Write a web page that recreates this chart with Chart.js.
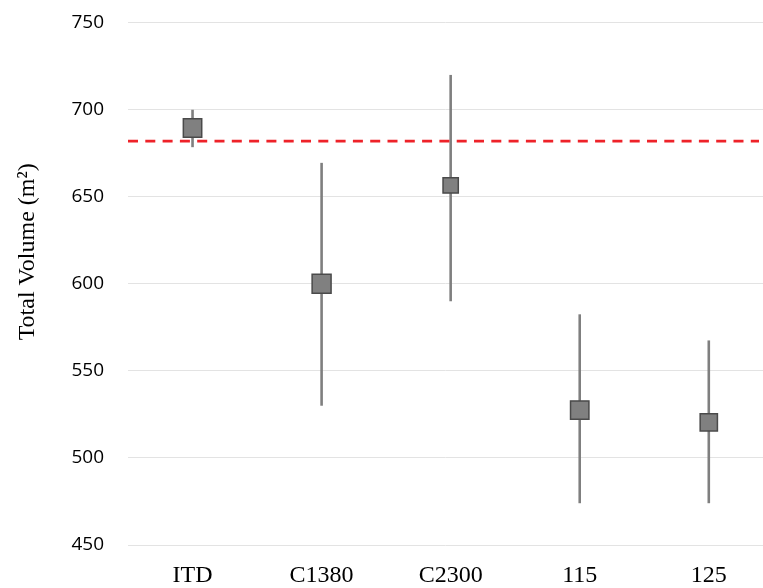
<!DOCTYPE html>
<html>
<head>
<meta charset="utf-8">
<script src="https://cdn.jsdelivr.net/npm/chart.js@4/dist/chart.umd.min.js"></script>
<style>
  html, body { margin: 0; padding: 0; background: #fff; overflow: hidden; }
</style>
</head>
<body>
<canvas id="chart" width="763" height="588"></canvas>
<script>
// Total volume per method: mean with its lower/upper range
const categories = ['ITD', 'C1380', 'C2300', '115', '125'];
const means = [689.5, 600, 656.5, 527.5, 520.5];
const upper = [700, 669.5, 720, 582.5, 567.5];
const lower = [678.5, 530, 590, 474, 474];
const referenceVolume = 682;
const yTicks = [450, 500, 550, 600, 650, 700, 750];
const yTitle = 'Total Volume (m²)';

// Vertical range bars behind each marker, the dashed reference line and the axis title
const rangeBars = {
  id: 'rangeBars',
  beforeDatasetsDraw(chart) {
    const { ctx, chartArea, scales: { x, y } } = chart;
    ctx.save();
    ctx.strokeStyle = '#7f7f7f';
    ctx.lineWidth = 2.6;
    categories.forEach((c, i) => {
      const px = x.getPixelForValue(i);
      ctx.beginPath();
      ctx.moveTo(px, y.getPixelForValue(upper[i]));
      ctx.lineTo(px, y.getPixelForValue(lower[i]));
      ctx.stroke();
    });
    const ry = y.getPixelForValue(referenceVolume);
    ctx.strokeStyle = '#ee2229';
    ctx.lineWidth = 2.8;
    ctx.setLineDash([10, 7.3]);
    ctx.beginPath();
    ctx.moveTo(chartArea.left, ry);
    ctx.lineTo(chartArea.right - 4, ry);
    ctx.stroke();
    ctx.restore();

    ctx.save();
    ctx.translate(28, (chartArea.top + chartArea.bottom) / 2 - 32);
    ctx.rotate(-Math.PI / 2);
    ctx.fillStyle = '#000';
    ctx.font = '24px "Liberation Serif", "Times New Roman", serif';
    ctx.textAlign = 'center';
    ctx.textBaseline = 'middle';
    ctx.fillText(yTitle, 0, 0);
    ctx.restore();
  }
};

new Chart(document.getElementById('chart'), {
  type: 'line',
  data: {
    datasets: [{
      data: means.map((v, i) => ({ x: i, y: v })),
      showLine: false,
      pointStyle: 'rect',
      pointRadius: [13, 13.4, 10.8, 13, 12.2],
      pointHoverRadius: [13, 13.4, 10.8, 13, 12.2],
      pointBackgroundColor: '#808080',
      pointBorderColor: '#4a4a4a',
      pointBorderWidth: 1.5,
      clip: false
    }]
  },
  options: {
    responsive: false,
    animation: false,
    layout: { autoPadding: false, padding: { top: 22.7, right: 0, left: 0, bottom: 0 } },
    plugins: { legend: { display: false }, tooltip: { enabled: false } },
    scales: {
      x: {
        type: 'linear',
        min: -0.5,
        max: 4.42,
        afterBuildTicks(scale) { scale.ticks = categories.map((c, i) => ({ value: i })); },
        grid: { display: false, drawTicks: false },
        border: { display: false },
        ticks: {
          color: '#000',
          padding: 16,
          callback: (v) => categories[v],
          font: { family: '"Liberation Serif", "Times New Roman", serif', size: 24 }
        },
        afterFit(scale) { scale.height = 43; scale.paddingLeft = 0; scale.paddingRight = 0; }
      },
      y: {
        min: 450,
        max: 750,
        afterBuildTicks(scale) { scale.ticks = yTicks.map(v => ({ value: v })); },
        grid: { color: '#e3e3e3', lineWidth: 1, drawTicks: false },
        border: { display: false },
        ticks: {
          color: '#000',
          padding: 24,
          font: { family: '"Open Sans", sans-serif', size: 19 }
        },
        afterFit(scale) { scale.width = 128; scale.paddingTop = 0; scale.paddingBottom = 0; }
      }
    }
  },
  plugins: [rangeBars]
});
</script>
</body>
</html>
